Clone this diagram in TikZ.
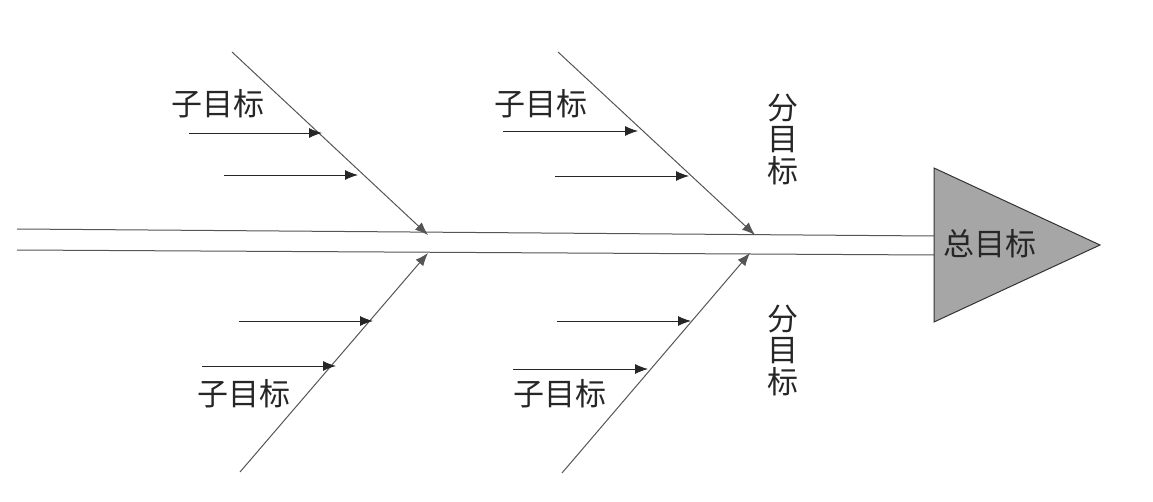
\documentclass[tikz,border=0pt]{standalone}
\usepackage{fontspec}
\newfontfamily\cjk{Noto Sans CJK SC}
\usetikzlibrary{arrows.meta}
\definecolor{linegray}{HTML}{555555}
\definecolor{trifill}{HTML}{A6A6A6}
\tikzset{
  tip/.style={-{Latex[length=13pt,width=10pt]}},
  bone/.style={draw=linegray, line width=1pt},
  arr/.style={draw=black!85, line width=0.9pt, tip},
  lbl/.style={inner sep=0pt, font=\cjk\fontsize{31}{31.5}\selectfont, text=black!85},
  vlbl/.style={lbl, align=center},
}
\begin{document}
\begin{tikzpicture}[x=1pt,y=-1pt]
\useasboundingbox (0,0) rectangle (1153,502);
% spine
\coordinate (sUL) at (17,229);
\coordinate (sUR) at (934,236);
\coordinate (sLL) at (17,250);
\coordinate (sLR) at (934,255);
\draw[bone] (sUL) -- (sUR);
\draw[bone] (sLL) -- (sLR);
% head
\coordinate (hT) at (934,168);
\coordinate (hP) at (1100,245);
\coordinate (hB) at (934,322);
\draw[draw=black!80, line width=1pt, fill=trifill] (hT) -- (hP) -- (hB) -- cycle;
\node[lbl] (goal) at (990,244) {总目标};
% branch 1 (upper left)
\coordinate (b1s) at (232,52);
\coordinate (b1e) at (428,235);
\draw[bone, tip] (b1s) -- (b1e);
\coordinate (a11s) at (189,133); \coordinate (a11e) at (322,133);
\coordinate (a12s) at (224,175); \coordinate (a12e) at (358,175);
\draw[arr] (a11s) -- (a11e);
\draw[arr] (a12s) -- (a12e);
\node[lbl] (t1) at (218,104) {子目标};
% branch 2 (lower left)
\coordinate (b2s) at (240,472);
\coordinate (b2e) at (428,253);
\draw[bone, tip] (b2s) -- (b2e);
\coordinate (a21s) at (239,321); \coordinate (a21e) at (373,321);
\coordinate (a22s) at (202,366); \coordinate (a22e) at (336,366);
\draw[arr] (a21s) -- (a21e);
\draw[arr] (a22s) -- (a22e);
\node[lbl] (t2) at (244,394) {子目标};
% branch 3 (upper right)
\coordinate (b3s) at (558,52);
\coordinate (b3e) at (755,235);
\draw[bone, tip] (b3s) -- (b3e);
\coordinate (a31s) at (503,131); \coordinate (a31e) at (638,131);
\coordinate (a32s) at (555,176); \coordinate (a32e) at (689,176);
\draw[arr] (a31s) -- (a31e);
\draw[arr] (a32s) -- (a32e);
\node[lbl] (t3) at (541,104) {子目标};
\node[vlbl] (v3) at (783,139) {分\\目\\标};
% branch 4 (lower right)
\coordinate (b4s) at (562,473);
\coordinate (b4e) at (750,253);
\draw[bone, tip] (b4s) -- (b4e);
\coordinate (a41s) at (557,321); \coordinate (a41e) at (691,321);
\coordinate (a42s) at (513,369); \coordinate (a42e) at (648,369);
\draw[arr] (a41s) -- (a41e);
\draw[arr] (a42s) -- (a42e);
\node[lbl] (t4) at (560,394) {子目标};
\node[vlbl] (v4) at (783,350) {分\\目\\标};
\end{tikzpicture}
\end{document}
